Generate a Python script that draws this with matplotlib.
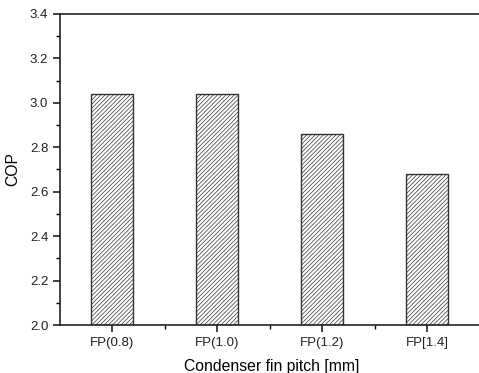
import matplotlib
matplotlib.use("Agg")
import matplotlib.pyplot as plt
from matplotlib.ticker import MultipleLocator, FixedLocator, FormatStrFormatter

# donnees
categories = ["FP(0.8)", "FP(1.0)", "FP(1.2)", "FP[1.4]"]
cop = [3.04, 3.04, 2.86, 2.68]

plt.rcParams['font.family'] = ['Liberation Sans', 'DejaVu Sans']
plt.rcParams['hatch.color'] = '#888888'
plt.rcParams['hatch.linewidth'] = 0.5

fig = plt.figure(figsize=(4.79, 3.73), dpi=100)
ax = fig.add_axes([60/479, 48/373, 424/479, 311/373])

x = list(range(len(categories)))
ax.bar(x, [c - 2.0 for c in cop], bottom=2.0, width=0.4, color='white',
       edgecolor='#333333', linewidth=1.0, hatch='////////')

ax.set_xlim(-0.5, 3.54)
ax.set_ylim(2.0, 3.4)
ax.set_xticks(x)
ax.set_xticklabels(categories)
ax.xaxis.set_minor_locator(FixedLocator([0.5, 1.5, 2.5]))
ax.yaxis.set_major_locator(MultipleLocator(0.2))
ax.yaxis.set_minor_locator(MultipleLocator(0.1))
ax.yaxis.set_major_formatter(FormatStrFormatter('%.1f'))

ax.tick_params(axis='both', which='major', direction='out', length=5, width=1.2,
               labelsize=9.5, colors='#222222')
ax.tick_params(axis='both', which='minor', direction='out', length=3, width=1.0)
ax.tick_params(axis='x', which='both', top=False)
ax.tick_params(axis='y', which='both', right=False)

for s in ['left', 'top', 'bottom', 'right']:
    ax.spines[s].set_linewidth(1.2)
    ax.spines[s].set_color('#222222')

ax.set_xlabel("Condenser fin pitch [mm]", fontsize=11.3, labelpad=7)
ax.set_ylabel("COP", fontsize=11.3, labelpad=7)

fig.savefig("out.png", dpi=100)
